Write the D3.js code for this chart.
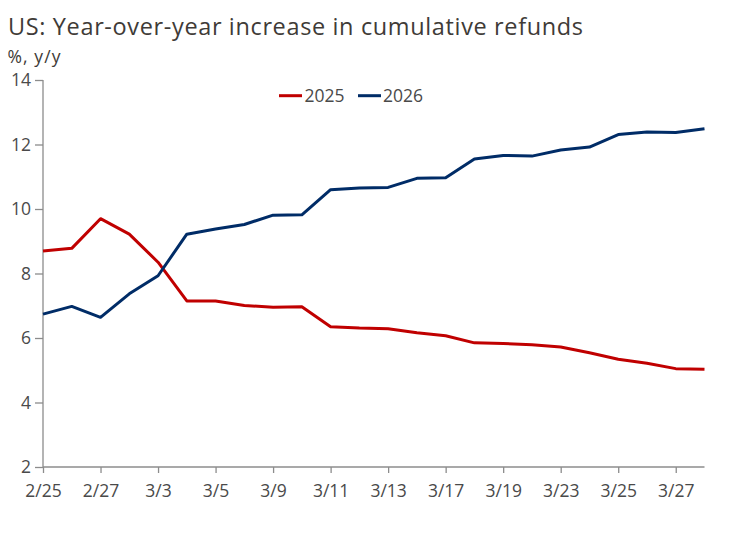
<!DOCTYPE html>
<html><head><meta charset="utf-8">
<script src="https://cdn.jsdelivr.net/npm/d3@7"></script>
<style>body{margin:0;background:#fff}svg{display:block}</style>
</head><body><svg id="c" width="731" height="534"></svg>
<script>
const dates = ["2/25","2/26","2/27","3/2","3/3","3/4","3/5","3/6","3/9","3/10","3/11","3/12","3/13","3/16","3/17","3/18","3/19","3/20","3/23","3/24","3/25","3/26","3/27","3/30"];
const s2025 = [8.70,8.78,9.70,9.22,8.35,7.15,7.15,7.01,6.95,6.97,6.35,6.31,6.29,6.16,6.07,5.85,5.83,5.79,5.72,5.54,5.34,5.22,5.05,5.03];
const s2026 = [6.74,6.98,6.64,7.37,7.93,9.22,9.38,9.52,9.81,9.82,10.60,10.65,10.67,10.95,10.97,11.55,11.66,11.64,11.83,11.92,12.31,12.39,12.37,12.49];
const yTicks = [2,4,6,8,10,12,14];
const xTickLabels = ["2/25","2/27","3/3","3/5","3/9","3/11","3/13","3/17","3/19","3/23","3/25","3/27"];
const seriesNames = ["2025","2026"];
const colors = ["#C00000","#002C67"];

(function(){
const svg = d3.select("#c");
const font = "'Open Sans', 'Noto Sans', sans-serif";
const mL = 43, mR = 704.5, mT = 80, mB = 467;
const x = d3.scalePoint().domain(dates).range([mL, mR]).padding(0);
const y = d3.scaleLinear().domain([2,14]).range([mB, mT]);

svg.append("text").attr("x",8).attr("y",34.5).attr("font-family",font).attr("font-size",23.5)
  .attr("textLength",575).attr("lengthAdjust","spacing")
  .attr("fill","#403b37").text("US: Year-over-year increase in cumulative refunds");
svg.append("text").attr("x",7.5).attr("y",63).attr("font-family",font).attr("font-size",17.5)
  .attr("textLength",53).attr("lengthAdjust","spacing")
  .attr("fill","#403b37").text("%, y/y");

const yAxis = svg.append("g").attr("transform",`translate(${mL},0)`)
  .call(d3.axisLeft(y).tickValues(yTicks).tickSize(8).tickPadding(4).tickFormat(d3.format("d")));
const xAxis = svg.append("g").attr("transform",`translate(0,${mB})`)
  .call(d3.axisBottom(x).tickValues(xTickLabels).tickSize(6).tickPadding(12));
[yAxis,xAxis].forEach(g=>{
  g.select(".domain").attr("stroke","#8c8c8c").attr("stroke-width",1.3);
  g.selectAll(".tick line").attr("stroke","#8c8c8c").attr("stroke-width",1.3);
  g.selectAll(".tick text").attr("font-family",font).attr("font-size",17.5).attr("fill","#4a4a4a");
});
yAxis.select(".domain").attr("d",`M0,${mT}V${mB}`);
xAxis.select(".domain").attr("d",`M${mL},0H${mR}`);

const line = d3.line().x((d,i)=>x(dates[i])).y(d=>y(d));
[s2025,s2026].forEach((s,k)=>{
  svg.append("path").datum(s).attr("d",line).attr("fill","none")
    .attr("stroke",colors[k]).attr("stroke-width",3).attr("stroke-linejoin","round");
});

const leg = [{x:279,tx:304.5},{x:358,tx:383}];
seriesNames.forEach((n,k)=>{
  svg.append("line").attr("x1",leg[k].x).attr("x2",leg[k].x+23).attr("y1",95.7).attr("y2",95.7)
    .attr("stroke",colors[k]).attr("stroke-width",3);
  svg.append("text").attr("x",leg[k].tx).attr("y",101.5).attr("font-family",font).attr("font-size",17.5)
    .attr("fill","#4a4a4a").text(n);
});
})();
</script></body></html>
